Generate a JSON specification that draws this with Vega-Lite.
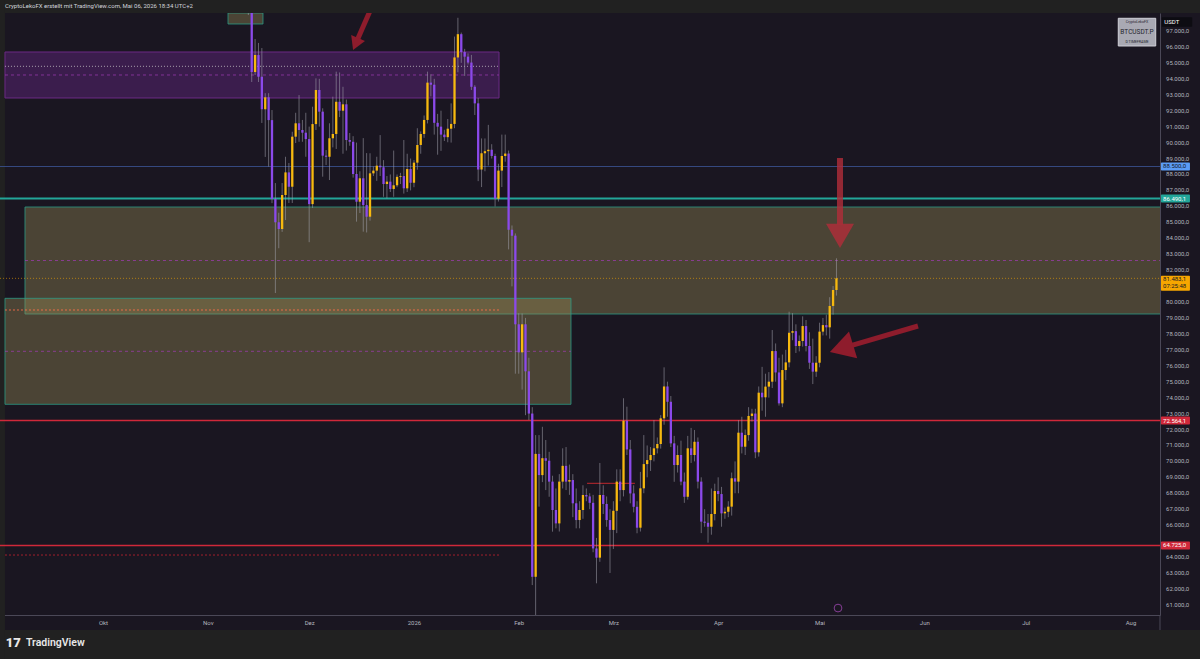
{
"$schema": "https://vega.github.io/schema/vega-lite/v6.json",
"width": 1160, "height": 602, "autosize": "none",
"padding": {"left": 0, "top": 13, "right": 40, "bottom": 44},
"background": "#1a1621",
"config": {"view": {"stroke": null}, "font": "Roboto", "axis": {"labelOverlap": false, "labelFlush": false}, "locale": {"number": {"decimal": ",", "thousands": ".", "grouping": [3], "currency": ["", ""]}}},
"datasets": {
"candles": [
{"x":"2025-11-13","o":101600,"h":104000,"l":98000,"c":99700},
{"x":"2025-11-14","o":99700,"h":99900,"l":93800,"c":94430},
{"x":"2025-11-15","o":94430,"h":96500,"l":94240,"c":95490},
{"x":"2025-11-16","o":95490,"h":96250,"l":93800,"c":94130},
{"x":"2025-11-17","o":94130,"h":95930,"l":91230,"c":92090},
{"x":"2025-11-18","o":92090,"h":93100,"l":89100,"c":92840},
{"x":"2025-11-19","o":92840,"h":93100,"l":88490,"c":91410},
{"x":"2025-11-20","o":91410,"h":92040,"l":86200,"c":86460},
{"x":"2025-11-21","o":86460,"h":87460,"l":80560,"c":85000},
{"x":"2025-11-22","o":85000,"h":85600,"l":83370,"c":84580},
{"x":"2025-11-23","o":84580,"h":87460,"l":84400,"c":86710},
{"x":"2025-11-24","o":86710,"h":89110,"l":85140,"c":88130},
{"x":"2025-11-25","o":88130,"h":88720,"l":86210,"c":87230},
{"x":"2025-11-26","o":87230,"h":90680,"l":86210,"c":90370},
{"x":"2025-11-27","o":90370,"h":91870,"l":89970,"c":91210},
{"x":"2025-11-28","o":91210,"h":92980,"l":90050,"c":90790},
{"x":"2025-11-29","o":90790,"h":91420,"l":90050,"c":90620},
{"x":"2025-11-30","o":90620,"h":91870,"l":89110,"c":90220},
{"x":"2025-12-01","o":90220,"h":91000,"l":83750,"c":86140},
{"x":"2025-12-02","o":86140,"h":92250,"l":85900,"c":91160},
{"x":"2025-12-03","o":91160,"h":94030,"l":90790,"c":93300},
{"x":"2025-12-04","o":93300,"h":94000,"l":91000,"c":91940},
{"x":"2025-12-05","o":91940,"h":92150,"l":87860,"c":89180},
{"x":"2025-12-06","o":89180,"h":89530,"l":88590,"c":89110},
{"x":"2025-12-07","o":89110,"h":91210,"l":87650,"c":90270},
{"x":"2025-12-08","o":90270,"h":92880,"l":89700,"c":90540},
{"x":"2025-12-09","o":90540,"h":94450,"l":89600,"c":92560},
{"x":"2025-12-10","o":92560,"h":94400,"l":91600,"c":92000},
{"x":"2025-12-11","o":92000,"h":93500,"l":89300,"c":92400},
{"x":"2025-12-12","o":92400,"h":92700,"l":89500,"c":90160},
{"x":"2025-12-13","o":90160,"h":90600,"l":89800,"c":90050},
{"x":"2025-12-14","o":90050,"h":90400,"l":87800,"c":88030},
{"x":"2025-12-15","o":88030,"h":90000,"l":85040,"c":86290},
{"x":"2025-12-16","o":86290,"h":88200,"l":85580,"c":87760},
{"x":"2025-12-17","o":87760,"h":90280,"l":84410,"c":86080},
{"x":"2025-12-18","o":86080,"h":89340,"l":84360,"c":85350},
{"x":"2025-12-19","o":85350,"h":89330,"l":85100,"c":88070},
{"x":"2025-12-20","o":88070,"h":88500,"l":87900,"c":88240},
{"x":"2025-12-21","o":88240,"h":89110,"l":87600,"c":88550},
{"x":"2025-12-22","o":88550,"h":90470,"l":87900,"c":88450},
{"x":"2025-12-23","o":88450,"h":88900,"l":86600,"c":87400},
{"x":"2025-12-24","o":87400,"h":87900,"l":86500,"c":87550},
{"x":"2025-12-25","o":87550,"h":88000,"l":86900,"c":87090},
{"x":"2025-12-26","o":87090,"h":89500,"l":86600,"c":87320},
{"x":"2025-12-27","o":87320,"h":88000,"l":87200,"c":87850},
{"x":"2025-12-28","o":87850,"h":88100,"l":87400,"c":87900},
{"x":"2025-12-29","o":87900,"h":90160,"l":86800,"c":87130},
{"x":"2025-12-30","o":87130,"h":89300,"l":86900,"c":88340},
{"x":"2025-12-31","o":88340,"h":89000,"l":87000,"c":87480},
{"x":"2026-01-01","o":87480,"h":88900,"l":87200,"c":88740},
{"x":"2026-01-02","o":88740,"h":90900,"l":88300,"c":89850},
{"x":"2026-01-03","o":89850,"h":90700,"l":89300,"c":90540},
{"x":"2026-01-04","o":90540,"h":91700,"l":90300,"c":91420},
{"x":"2026-01-05","o":91420,"h":94450,"l":91200,"c":93760},
{"x":"2026-01-06","o":93760,"h":94290,"l":92900,"c":93630},
{"x":"2026-01-07","o":93630,"h":94000,"l":90500,"c":91240},
{"x":"2026-01-08","o":91240,"h":91800,"l":89240,"c":91000},
{"x":"2026-01-09","o":91000,"h":92000,"l":89480,"c":90500},
{"x":"2026-01-10","o":90500,"h":90800,"l":90100,"c":90340},
{"x":"2026-01-11","o":90340,"h":91480,"l":90020,"c":90870},
{"x":"2026-01-12","o":90870,"h":92460,"l":90000,"c":91170},
{"x":"2026-01-13","o":91170,"h":96650,"l":90900,"c":95340},
{"x":"2026-01-14","o":95340,"h":97830,"l":94410,"c":96800},
{"x":"2026-01-15","o":96800,"h":96900,"l":95000,"c":95680},
{"x":"2026-01-16","o":95680,"h":95880,"l":94180,"c":95390},
{"x":"2026-01-17","o":95390,"h":95600,"l":94900,"c":95020},
{"x":"2026-01-18","o":95020,"h":95500,"l":93300,"c":93500},
{"x":"2026-01-19","o":93500,"h":93600,"l":91730,"c":92460},
{"x":"2026-01-20","o":92460,"h":92800,"l":87580,"c":88310},
{"x":"2026-01-21","o":88310,"h":90260,"l":87210,"c":89330},
{"x":"2026-01-22","o":89330,"h":90260,"l":88200,"c":89460},
{"x":"2026-01-23","o":89460,"h":91110,"l":88560,"c":89550},
{"x":"2026-01-24","o":89550,"h":89900,"l":89000,"c":89160},
{"x":"2026-01-25","o":89160,"h":89300,"l":85990,"c":86480},
{"x":"2026-01-26","o":86480,"h":88670,"l":86300,"c":88240},
{"x":"2026-01-27","o":88240,"h":90500,"l":87210,"c":89160},
{"x":"2026-01-28","o":89160,"h":90500,"l":88800,"c":89310},
{"x":"2026-01-29","o":89310,"h":89500,"l":83300,"c":84530},
{"x":"2026-01-30","o":84530,"h":84800,"l":80980,"c":84160},
{"x":"2026-01-31","o":84160,"h":84300,"l":75500,"c":78600},
{"x":"2026-02-01","o":78600,"h":79290,"l":75500,"c":76840},
{"x":"2026-02-02","o":76840,"h":79280,"l":74500,"c":78600},
{"x":"2026-02-03","o":78600,"h":79000,"l":72900,"c":75650},
{"x":"2026-02-04","o":75650,"h":76500,"l":72600,"c":73000},
{"x":"2026-02-05","o":73000,"h":73400,"l":62240,"c":62760},
{"x":"2026-02-06","o":62760,"h":71650,"l":60000,"c":70470},
{"x":"2026-02-07","o":70470,"h":71650,"l":67160,"c":69140},
{"x":"2026-02-08","o":69140,"h":72170,"l":68700,"c":70200},
{"x":"2026-02-09","o":70200,"h":71340,"l":68200,"c":70040},
{"x":"2026-02-10","o":70040,"h":70600,"l":67780,"c":68730},
{"x":"2026-02-11","o":68730,"h":69100,"l":65590,"c":66950},
{"x":"2026-02-12","o":66950,"h":68300,"l":65800,"c":66110},
{"x":"2026-02-13","o":66110,"h":69200,"l":65600,"c":68730},
{"x":"2026-02-14","o":68730,"h":70820,"l":68300,"c":69720},
{"x":"2026-02-15","o":69720,"h":70900,"l":68200,"c":68730},
{"x":"2026-02-16","o":68730,"h":69800,"l":67900,"c":68830},
{"x":"2026-02-17","o":68830,"h":69200,"l":66500,"c":67370},
{"x":"2026-02-18","o":67370,"h":68300,"l":65800,"c":66320},
{"x":"2026-02-19","o":66320,"h":67500,"l":65800,"c":66950},
{"x":"2026-02-20","o":66950,"h":68500,"l":66400,"c":67890},
{"x":"2026-02-21","o":67890,"h":68300,"l":67500,"c":67800},
{"x":"2026-02-22","o":67800,"h":68000,"l":67000,"c":67400},
{"x":"2026-02-23","o":67400,"h":67900,"l":64300,"c":64540},
{"x":"2026-02-24","o":64540,"h":65200,"l":62350,"c":63960},
{"x":"2026-02-25","o":63960,"h":69900,"l":63700,"c":67890},
{"x":"2026-02-26","o":67890,"h":68500,"l":66700,"c":67330},
{"x":"2026-02-27","o":67330,"h":67800,"l":65900,"c":66320},
{"x":"2026-02-28","o":66320,"h":67000,"l":63000,"c":65700},
{"x":"2026-03-01","o":65700,"h":67500,"l":64500,"c":66900},
{"x":"2026-03-02","o":66900,"h":69500,"l":65500,"c":68730},
{"x":"2026-03-03","o":68730,"h":69500,"l":67500,"c":68200},
{"x":"2026-03-04","o":68200,"h":73960,"l":67800,"c":72550},
{"x":"2026-03-05","o":72550,"h":73430,"l":70400,"c":70750},
{"x":"2026-03-06","o":70750,"h":71340,"l":67370,"c":67990},
{"x":"2026-03-07","o":67990,"h":68500,"l":66800,"c":67150},
{"x":"2026-03-08","o":67150,"h":67500,"l":65490,"c":65840},
{"x":"2026-03-09","o":65840,"h":69340,"l":65600,"c":68310},
{"x":"2026-03-10","o":68310,"h":71650,"l":68000,"c":69830},
{"x":"2026-03-11","o":69830,"h":71000,"l":69000,"c":70080},
{"x":"2026-03-12","o":70080,"h":70900,"l":69400,"c":70400},
{"x":"2026-03-13","o":70400,"h":72590,"l":70000,"c":70820},
{"x":"2026-03-14","o":70820,"h":71500,"l":70500,"c":71090},
{"x":"2026-03-15","o":71090,"h":72900,"l":70800,"c":72700},
{"x":"2026-03-16","o":72700,"h":75900,"l":72300,"c":74700},
{"x":"2026-03-17","o":74700,"h":75000,"l":72800,"c":73740},
{"x":"2026-03-18","o":73740,"h":74100,"l":70900,"c":71130},
{"x":"2026-03-19","o":71130,"h":71600,"l":68720,"c":69770},
{"x":"2026-03-20","o":69770,"h":71000,"l":69300,"c":70400},
{"x":"2026-03-21","o":70400,"h":71300,"l":68500,"c":68730},
{"x":"2026-03-22","o":68730,"h":69300,"l":67400,"c":67780},
{"x":"2026-03-23","o":67780,"h":71600,"l":67600,"c":70820},
{"x":"2026-03-24","o":70820,"h":72100,"l":69900,"c":70400},
{"x":"2026-03-25","o":70400,"h":71970,"l":70000,"c":71230},
{"x":"2026-03-26","o":71230,"h":71500,"l":68300,"c":68730},
{"x":"2026-03-27","o":68730,"h":69000,"l":65500,"c":66220},
{"x":"2026-03-28","o":66220,"h":67000,"l":65900,"c":66150},
{"x":"2026-03-29","o":66150,"h":66700,"l":64900,"c":65900},
{"x":"2026-03-30","o":65900,"h":68300,"l":65400,"c":66700},
{"x":"2026-03-31","o":66700,"h":68600,"l":66300,"c":68140},
{"x":"2026-04-01","o":68140,"h":69000,"l":67500,"c":67950},
{"x":"2026-04-02","o":67950,"h":68400,"l":65900,"c":66740},
{"x":"2026-04-03","o":66740,"h":67100,"l":66400,"c":66840},
{"x":"2026-04-04","o":66840,"h":67500,"l":66500,"c":67160},
{"x":"2026-04-05","o":67160,"h":69300,"l":66600,"c":68940},
{"x":"2026-04-06","o":68940,"h":70000,"l":68000,"c":68730},
{"x":"2026-04-07","o":68730,"h":72590,"l":68000,"c":71800},
{"x":"2026-04-08","o":71800,"h":72800,"l":70500,"c":70920},
{"x":"2026-04-09","o":70920,"h":72000,"l":70400,"c":71650},
{"x":"2026-04-10","o":71650,"h":73400,"l":71300,"c":72850},
{"x":"2026-04-11","o":72850,"h":73300,"l":72500,"c":73000},
{"x":"2026-04-12","o":73000,"h":73300,"l":70200,"c":70570},
{"x":"2026-04-13","o":70570,"h":74700,"l":70300,"c":74310},
{"x":"2026-04-14","o":74310,"h":75930,"l":73180,"c":74020},
{"x":"2026-04-15","o":74020,"h":75500,"l":72800,"c":74690},
{"x":"2026-04-16","o":74690,"h":75600,"l":74000,"c":75000},
{"x":"2026-04-17","o":75000,"h":78240,"l":74600,"c":76920},
{"x":"2026-04-18","o":76920,"h":77400,"l":75000,"c":75580},
{"x":"2026-04-19","o":75580,"h":76500,"l":73500,"c":73640},
{"x":"2026-04-20","o":73640,"h":76700,"l":73400,"c":75730},
{"x":"2026-04-21","o":75730,"h":77000,"l":75100,"c":76210},
{"x":"2026-04-22","o":76210,"h":79390,"l":75900,"c":78070},
{"x":"2026-04-23","o":78070,"h":79300,"l":77600,"c":78170},
{"x":"2026-04-24","o":78170,"h":78600,"l":76800,"c":77240},
{"x":"2026-04-25","o":77240,"h":77900,"l":76900,"c":77550},
{"x":"2026-04-26","o":77550,"h":79100,"l":77200,"c":78490},
{"x":"2026-04-27","o":78490,"h":78870,"l":76900,"c":77240},
{"x":"2026-04-28","o":77240,"h":78100,"l":75800,"c":76190},
{"x":"2026-04-29","o":76190,"h":77700,"l":74850,"c":75630},
{"x":"2026-04-30","o":75630,"h":76600,"l":75300,"c":76190},
{"x":"2026-05-01","o":76190,"h":78700,"l":75900,"c":78140},
{"x":"2026-05-02","o":78140,"h":79000,"l":77900,"c":78550},
{"x":"2026-05-03","o":78550,"h":79200,"l":77900,"c":78410},
{"x":"2026-05-04","o":78410,"h":80300,"l":77700,"c":79750},
{"x":"2026-05-05","o":79750,"h":81000,"l":79200,"c":80750},
{"x":"2026-05-06","o":80750,"h":82740,"l":80400,"c":81483.1}
],
"priceLabels": [
{"x":"2026-08-11T12:00:00Z","y":97000,"t":"97.000,0"},
{"x":"2026-08-11T12:00:00Z","y":96000,"t":"96.000,0"},
{"x":"2026-08-11T12:00:00Z","y":95000,"t":"95.000,0"},
{"x":"2026-08-11T12:00:00Z","y":94000,"t":"94.000,0"},
{"x":"2026-08-11T12:00:00Z","y":93000,"t":"93.000,0"},
{"x":"2026-08-11T12:00:00Z","y":92000,"t":"92.000,0"},
{"x":"2026-08-11T12:00:00Z","y":91000,"t":"91.000,0"},
{"x":"2026-08-11T12:00:00Z","y":90000,"t":"90.000,0"},
{"x":"2026-08-11T12:00:00Z","y":89000,"t":"89.000,0"},
{"x":"2026-08-11T12:00:00Z","y":88000,"t":"88.000,0"},
{"x":"2026-08-11T12:00:00Z","y":87000,"t":"87.000,0"},
{"x":"2026-08-11T12:00:00Z","y":86000,"t":"86.000,0"},
{"x":"2026-08-11T12:00:00Z","y":85000,"t":"85.000,0"},
{"x":"2026-08-11T12:00:00Z","y":84000,"t":"84.000,0"},
{"x":"2026-08-11T12:00:00Z","y":83000,"t":"83.000,0"},
{"x":"2026-08-11T12:00:00Z","y":82000,"t":"82.000,0"},
{"x":"2026-08-11T12:00:00Z","y":80000,"t":"80.000,0"},
{"x":"2026-08-11T12:00:00Z","y":79000,"t":"79.000,0"},
{"x":"2026-08-11T12:00:00Z","y":78000,"t":"78.000,0"},
{"x":"2026-08-11T12:00:00Z","y":77000,"t":"77.000,0"},
{"x":"2026-08-11T12:00:00Z","y":76000,"t":"76.000,0"},
{"x":"2026-08-11T12:00:00Z","y":75000,"t":"75.000,0"},
{"x":"2026-08-11T12:00:00Z","y":74000,"t":"74.000,0"},
{"x":"2026-08-11T12:00:00Z","y":73000,"t":"73.000,0"},
{"x":"2026-08-11T12:00:00Z","y":72000,"t":"72.000,0"},
{"x":"2026-08-11T12:00:00Z","y":71000,"t":"71.000,0"},
{"x":"2026-08-11T12:00:00Z","y":70000,"t":"70.000,0"},
{"x":"2026-08-11T12:00:00Z","y":69000,"t":"69.000,0"},
{"x":"2026-08-11T12:00:00Z","y":68000,"t":"68.000,0"},
{"x":"2026-08-11T12:00:00Z","y":67000,"t":"67.000,0"},
{"x":"2026-08-11T12:00:00Z","y":66000,"t":"66.000,0"},
{"x":"2026-08-11T12:00:00Z","y":64000,"t":"64.000,0"},
{"x":"2026-08-11T12:00:00Z","y":63000,"t":"63.000,0"},
{"x":"2026-08-11T12:00:00Z","y":62000,"t":"62.000,0"},
{"x":"2026-08-11T12:00:00Z","y":61000,"t":"61.000,0"}
],
"frame": [
{"x":"2025-08-20T00:00:00Z","x2":"2026-08-25T00:00:00Z","y":98129,"y2":99500},
{"x":"2025-08-20T00:00:00Z","x2":"2026-08-25T00:00:00Z","y":57000,"y2":59419},
{"x":"2025-08-20T00:00:00Z","x2":"2025-09-02T00:00:00Z","y":57000,"y2":99500}
],
"sep": [{"x":"2026-08-09T17:17:00Z","y":60363,"y2":59419}],
"zonePurple": [{"x":"2025-09-02T00:00:00Z","x2":"2026-01-26T04:00:00Z","y":92797,"y2":95683}],
"zonesOlive": [
{"x":"2025-09-07T22:00:00Z","x2":"2026-08-20T00:00:00Z","y":79246,"y2":85959},
{"x":"2025-09-02T00:00:00Z","x2":"2026-02-16T11:00:00Z","y":73581,"y2":80231},
{"x":"2025-11-06T23:30:00Z","x2":"2025-11-17T08:00:00Z","y":97439,"y2":98129}
],
"lineBlue": [{"x":"2025-08-20T00:00:00Z","x2":"2026-08-20T00:00:00Z","y":88500}],
"lineTeal": [{"x":"2025-08-20T00:00:00Z","x2":"2026-08-20T00:00:00Z","y":86490.1}],
"lineRed": [
{"x":"2025-08-20T00:00:00Z","x2":"2026-08-20T00:00:00Z","y":72564.1},
{"x":"2025-08-20T00:00:00Z","x2":"2026-08-20T00:00:00Z","y":64725}
],
"lineRedShort": [{"x":"2026-02-21T05:00:00Z","x2":"2026-03-07T09:00:00Z","y":68625}],
"lineMid": [
{"x":"2025-09-07T22:00:00Z","x2":"2026-08-20T00:00:00Z","y":82602},
{"x":"2025-09-02T00:00:00Z","x2":"2026-02-16T11:00:00Z","y":76906},
{"x":"2025-09-02T00:00:00Z","x2":"2026-01-26T04:00:00Z","y":94240}
],
"lineWhiteDot": [{"x":"2025-09-02T00:00:00Z","x2":"2026-01-26T04:00:00Z","y":94785}],
"lineCurrent": [{"x":"2025-08-20T00:00:00Z","x2":"2026-08-20T00:00:00Z","y":81483.1}],
"lineSalmonDot": [{"x":"2025-09-02T00:00:00Z","x2":"2026-01-26T04:00:00Z","y":79497}],
"lineRedDot": [{"x":"2025-09-02T00:00:00Z","x2":"2026-01-26T04:00:00Z","y":64126}],
"arrowShafts": [
{"a":"1","x":"2025-12-19T02:40:00Z","y":98318},
{"a":"1","x":"2025-12-15T07:10:00Z","y":96467},
{"a":"3","x":"2026-05-30T03:00:00Z","y":78492},
{"a":"3","x":"2026-05-10T07:10:00Z","y":77262}
],
"arrow2Shaft": [{"x":"2026-05-07T01:10:00Z","y":89032,"y2":84860}],
"head1": [{"x":"2025-12-14T17:30:00Z","y":96184}],
"head2": [{"x":"2026-05-07T01:10:00Z","y":84144}],
"head3": [{"x":"2026-05-07T11:45:00Z","y":77080}],
"icon": [{"x":"2026-05-06T11:00:00Z","y":60799}],
"tagBlue": [{"x":"2026-08-10T00:00:00Z","x2":"2026-08-18T14:00:00Z","y":88249,"y2":88751}],
"tagTeal": [{"x":"2026-08-10T00:00:00Z","x2":"2026-08-18T14:00:00Z","y":86239,"y2":86741}],
"tagOrange": [{"x":"2026-08-10T00:00:00Z","x2":"2026-08-18T14:00:00Z","y":80706,"y2":81647}],
"tagRed": [
{"x":"2026-08-10T00:00:00Z","x2":"2026-08-18T14:00:00Z","y":72313,"y2":72815},
{"x":"2026-08-10T00:00:00Z","x2":"2026-08-18T14:00:00Z","y":64474,"y2":64976}
],
"tagUsdt": [{"x":"2026-08-10T06:00:00Z","x2":"2026-08-19T06:00:00Z","y":97270,"y2":97860}],
"textDark": [
{"x":"2026-08-10T15:00:00Z","y":88500,"t":"88.500,0"},
{"x":"2026-08-10T15:00:00Z","y":81422,"t":"81.483,1"},
{"x":"2026-08-10T15:00:00Z","y":80990,"t":"07:25:48"}
],
"textLight": [
{"x":"2026-08-10T15:00:00Z","y":86490,"t":"86.490,1"},
{"x":"2026-08-10T15:00:00Z","y":72564,"t":"72.564,1"},
{"x":"2026-08-10T15:00:00Z","y":64725,"t":"64.725,0"},
{"x":"2026-08-11T00:00:00Z","y":97565,"t":"USDT"}
],
"wmBox": [{"x":"2026-07-28T09:00:00Z","x2":"2026-08-08T11:00:00Z","y":96059,"y2":97797}],
"wmSmall": [
{"x":"2026-08-02T22:00:00Z","y":97546,"t":"CryptoLekoFX"},
{"x":"2026-08-02T22:00:00Z","y":96329,"t":"D TIMEFRAME"}
],
"wmBig": [{"x":"2026-08-02T22:00:00Z","y":96956,"t":"BTCUSDT.P"}],
"header": [{"x":"2025-09-02T00:00:00Z","y":98568,"t":"CryptoLekoFX erstellt mit TradingView.com, Mai 06, 2026 18:34 UTC+2"}],
"footerLogo": [{"x":"2025-09-02T06:00:00Z","y":58603,"t":"17"}],
"footerText": [{"x":"2025-09-08T05:00:00Z","y":58603,"t":"TradingView"}]
},
"layer": [
{"data": {"name": "frame"}, "mark": {"type": "rect", "fill": "#212121", "clip": false},
 "encoding": {
  "x": {"field": "x", "type": "temporal", "scale": {"type": "utc", "domain": [1756643932800, 1786295980800], "nice": false, "padding": 0},
   "axis": {"values": [1759276800000,1761955200000,1764547200000,1767225600000,1769904000000,1772323200000,1775001600000,1777593600000,1780272000000,1782864000000,1785542400000],
    "labelExpr": "utcmonth(datum.value)==0 ? utcFormat(datum.value,'%Y') : ['Jan','Feb','Mrz','Apr','Mai','Jun','Jul','Aug','Sep','Okt','Nov','Dez'][utcmonth(datum.value)]",
    "ticks": false, "grid": false, "domainColor": "#4b4857", "labelColor": "#b2b5be", "labelFontSize": 6, "labelPadding": 4, "labelFlush": false, "labelOverlap": false, "title": null}},
  "x2": {"field": "x2"},
  "y": {"field": "y", "type": "quantitative", "scale": {"domain": [60363, 98129], "nice": false, "zero": false, "padding": 0},
   "axis": {"orient": "right", "labels": false, "ticks": false, "grid": false, "domainColor": "#4b4857", "title": null}},
  "y2": {"field": "y2"}}},
{"data": {"name": "sep"}, "mark": {"type": "rule", "color": "#4b4857", "strokeWidth": 1, "clip": false},
 "encoding": {"x": {"field": "x", "type": "temporal"}, "y": {"field": "y", "type": "quantitative"}, "y2": {"field": "y2"}}},
{"data": {"name": "priceLabels"}, "mark": {"type": "text", "align": "left", "baseline": "middle", "fontSize": 6, "color": "#b2b5be", "clip": false},
 "encoding": {"x": {"field": "x", "type": "temporal"}, "y": {"field": "y", "type": "quantitative"}, "text": {"field": "t"}}},
{"data": {"name": "zonePurple"}, "mark": {"type": "rect", "fill": "#7a2aa0", "fillOpacity": 0.35, "stroke": "#6b2a85", "strokeWidth": 1, "clip": true},
 "encoding": {"x": {"field": "x", "type": "temporal"}, "x2": {"field": "x2"}, "y": {"field": "y", "type": "quantitative"}, "y2": {"field": "y2"}}},
{"data": {"name": "zonesOlive"}, "mark": {"type": "rect", "fill": "#968a55", "fillOpacity": 0.4, "stroke": "#2a9a84", "strokeOpacity": 0.8, "strokeWidth": 1, "clip": true},
 "encoding": {"x": {"field": "x", "type": "temporal"}, "x2": {"field": "x2"}, "y": {"field": "y", "type": "quantitative"}, "y2": {"field": "y2"}}},
{"data": {"name": "lineMid"}, "mark": {"type": "rule", "color": "#a33bb8", "opacity": 0.7, "strokeWidth": 1, "strokeDash": [3, 3], "clip": true},
 "encoding": {"x": {"field": "x", "type": "temporal"}, "x2": {"field": "x2"}, "y": {"field": "y", "type": "quantitative"}}},
{"data": {"name": "lineWhiteDot"}, "mark": {"type": "rule", "color": "#cfcfcf", "opacity": 0.75, "strokeWidth": 1, "strokeDash": [1, 2], "clip": true},
 "encoding": {"x": {"field": "x", "type": "temporal"}, "x2": {"field": "x2"}, "y": {"field": "y", "type": "quantitative"}}},
{"data": {"name": "lineSalmonDot"}, "mark": {"type": "rule", "color": "#ff6e4a", "opacity": 0.85, "strokeWidth": 1, "strokeDash": [2, 2], "clip": true},
 "encoding": {"x": {"field": "x", "type": "temporal"}, "x2": {"field": "x2"}, "y": {"field": "y", "type": "quantitative"}}},
{"data": {"name": "lineRedDot"}, "mark": {"type": "rule", "color": "#b3202e", "opacity": 0.9, "strokeWidth": 1, "strokeDash": [2, 2], "clip": true},
 "encoding": {"x": {"field": "x", "type": "temporal"}, "x2": {"field": "x2"}, "y": {"field": "y", "type": "quantitative"}}},
{"data": {"name": "lineCurrent"}, "mark": {"type": "rule", "color": "#f7a600", "opacity": 0.6, "strokeWidth": 1, "strokeDash": [1, 2], "clip": true},
 "encoding": {"x": {"field": "x", "type": "temporal"}, "x2": {"field": "x2"}, "y": {"field": "y", "type": "quantitative"}}},
{"data": {"name": "lineBlue"}, "mark": {"type": "rule", "color": "#3a4f8c", "opacity": 0.9, "strokeWidth": 1, "clip": true},
 "encoding": {"x": {"field": "x", "type": "temporal"}, "x2": {"field": "x2"}, "y": {"field": "y", "type": "quantitative"}}},
{"data": {"name": "lineTeal"}, "mark": {"type": "rule", "color": "#22a699", "strokeWidth": 2, "clip": true},
 "encoding": {"x": {"field": "x", "type": "temporal"}, "x2": {"field": "x2"}, "y": {"field": "y", "type": "quantitative"}}},
{"data": {"name": "lineRed"}, "mark": {"type": "rule", "color": "#d0283a", "strokeWidth": 1.6, "clip": true},
 "encoding": {"x": {"field": "x", "type": "temporal"}, "x2": {"field": "x2"}, "y": {"field": "y", "type": "quantitative"}}},
{"data": {"name": "lineRedShort"}, "mark": {"type": "rule", "color": "#c0282f", "strokeWidth": 1, "clip": true},
 "encoding": {"x": {"field": "x", "type": "temporal"}, "x2": {"field": "x2"}, "y": {"field": "y", "type": "quantitative"}}},
{"data": {"name": "candles"}, "mark": {"type": "rule", "color": "#a3a3ad", "opacity": 0.55, "strokeWidth": 1, "clip": true},
 "encoding": {"x": {"field": "x", "type": "temporal"}, "y": {"field": "l", "type": "quantitative"}, "y2": {"field": "h"}}},
{"data": {"name": "candles"}, "mark": {"type": "bar", "size": 2.3, "clip": true},
 "encoding": {"x": {"field": "x", "type": "temporal"}, "y": {"field": "o", "type": "quantitative"}, "y2": {"field": "c"},
  "color": {"condition": {"test": "datum.c >= datum.o", "value": "#f7b90f"}, "value": "#8b49ea"}}},
{"data": {"name": "arrowShafts"}, "mark": {"type": "line", "color": "#8e1c2c", "strokeWidth": 5, "clip": true},
 "encoding": {"x": {"field": "x", "type": "temporal"}, "y": {"field": "y", "type": "quantitative"}, "detail": {"field": "a"}}},
{"data": {"name": "arrow2Shaft"}, "mark": {"type": "rule", "color": "#b22d3a", "opacity": 0.8, "strokeWidth": 6, "clip": true},
 "encoding": {"x": {"field": "x", "type": "temporal"}, "y": {"field": "y", "type": "quantitative"}, "y2": {"field": "y2"}}},
{"data": {"name": "head1"}, "mark": {"type": "point", "shape": "triangle-down", "filled": true, "size": 225, "angle": 23, "color": "#8e1c2c", "opacity": 1, "clip": true},
 "encoding": {"x": {"field": "x", "type": "temporal"}, "y": {"field": "y", "type": "quantitative"}}},
{"data": {"name": "head2"}, "mark": {"type": "point", "shape": "triangle-down", "filled": true, "size": 784, "angle": 0, "color": "#b22d3a", "opacity": 0.8, "clip": true},
 "encoding": {"x": {"field": "x", "type": "temporal"}, "y": {"field": "y", "type": "quantitative"}}},
{"data": {"name": "head3"}, "mark": {"type": "point", "shape": "triangle-down", "filled": true, "size": 784, "angle": 73, "color": "#8e1c2c", "opacity": 1, "clip": true},
 "encoding": {"x": {"field": "x", "type": "temporal"}, "y": {"field": "y", "type": "quantitative"}}},
{"data": {"name": "icon"}, "mark": {"type": "point", "shape": "circle", "filled": false, "size": 60, "stroke": "#b44fc8", "strokeWidth": 1, "clip": false},
 "encoding": {"x": {"field": "x", "type": "temporal"}, "y": {"field": "y", "type": "quantitative"}}},
{"data": {"name": "tagBlue"}, "mark": {"type": "rect", "fill": "#5b9cf6", "cornerRadius": 1, "clip": false},
 "encoding": {"x": {"field": "x", "type": "temporal"}, "x2": {"field": "x2"}, "y": {"field": "y", "type": "quantitative"}, "y2": {"field": "y2"}}},
{"data": {"name": "tagTeal"}, "mark": {"type": "rect", "fill": "#22a699", "cornerRadius": 1, "clip": false},
 "encoding": {"x": {"field": "x", "type": "temporal"}, "x2": {"field": "x2"}, "y": {"field": "y", "type": "quantitative"}, "y2": {"field": "y2"}}},
{"data": {"name": "tagOrange"}, "mark": {"type": "rect", "fill": "#f7a600", "cornerRadius": 1, "clip": false},
 "encoding": {"x": {"field": "x", "type": "temporal"}, "x2": {"field": "x2"}, "y": {"field": "y", "type": "quantitative"}, "y2": {"field": "y2"}}},
{"data": {"name": "tagRed"}, "mark": {"type": "rect", "fill": "#d0283a", "cornerRadius": 1, "clip": false},
 "encoding": {"x": {"field": "x", "type": "temporal"}, "x2": {"field": "x2"}, "y": {"field": "y", "type": "quantitative"}, "y2": {"field": "y2"}}},
{"data": {"name": "tagUsdt"}, "mark": {"type": "rect", "fill": "#0d0c12", "cornerRadius": 1, "clip": false},
 "encoding": {"x": {"field": "x", "type": "temporal"}, "x2": {"field": "x2"}, "y": {"field": "y", "type": "quantitative"}, "y2": {"field": "y2"}}},
{"data": {"name": "textDark"}, "mark": {"type": "text", "align": "left", "baseline": "middle", "fontSize": 6, "color": "#131722", "clip": false},
 "encoding": {"x": {"field": "x", "type": "temporal"}, "y": {"field": "y", "type": "quantitative"}, "text": {"field": "t"}}},
{"data": {"name": "textLight"}, "mark": {"type": "text", "align": "left", "baseline": "middle", "fontSize": 6, "color": "#ffffff", "clip": false},
 "encoding": {"x": {"field": "x", "type": "temporal"}, "y": {"field": "y", "type": "quantitative"}, "text": {"field": "t"}}},
{"data": {"name": "wmBox"}, "mark": {"type": "rect", "fill": "#a9a9b3", "stroke": "#d0d0d8", "strokeWidth": 1, "clip": false},
 "encoding": {"x": {"field": "x", "type": "temporal"}, "x2": {"field": "x2"}, "y": {"field": "y", "type": "quantitative"}, "y2": {"field": "y2"}}},
{"data": {"name": "wmSmall"}, "mark": {"type": "text", "align": "center", "baseline": "middle", "fontSize": 3.6, "color": "#26262e", "clip": false},
 "encoding": {"x": {"field": "x", "type": "temporal"}, "y": {"field": "y", "type": "quantitative"}, "text": {"field": "t"}}},
{"data": {"name": "wmBig"}, "mark": {"type": "text", "align": "center", "baseline": "middle", "fontSize": 6.5, "color": "#26262e", "clip": false},
 "encoding": {"x": {"field": "x", "type": "temporal"}, "y": {"field": "y", "type": "quantitative"}, "text": {"field": "t"}}},
{"data": {"name": "header"}, "mark": {"type": "text", "align": "left", "baseline": "middle", "fontSize": 6, "color": "#d1d4dc", "clip": false},
 "encoding": {"x": {"field": "x", "type": "temporal"}, "y": {"field": "y", "type": "quantitative"}, "text": {"field": "t"}}},
{"data": {"name": "footerLogo"}, "mark": {"type": "text", "align": "left", "baseline": "middle", "fontSize": 13, "fontWeight": 900, "color": "#e8e8e8", "clip": false},
 "encoding": {"x": {"field": "x", "type": "temporal"}, "y": {"field": "y", "type": "quantitative"}, "text": {"field": "t"}}},
{"data": {"name": "footerText"}, "mark": {"type": "text", "align": "left", "baseline": "middle", "fontSize": 10.5, "fontWeight": 600, "color": "#e8e8e8", "clip": false},
 "encoding": {"x": {"field": "x", "type": "temporal"}, "y": {"field": "y", "type": "quantitative"}, "text": {"field": "t"}}}
]
}
